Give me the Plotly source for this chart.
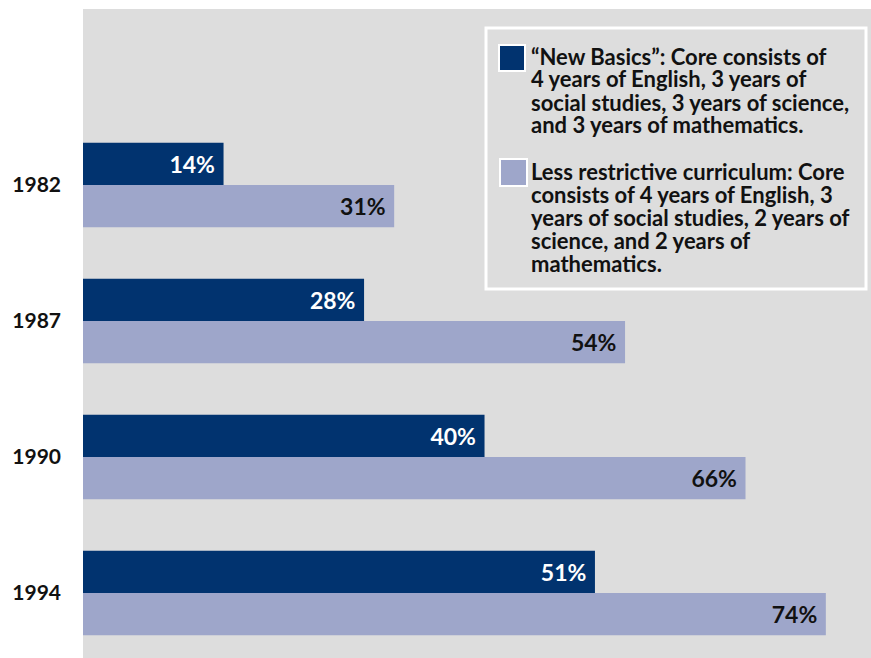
import plotly.graph_objects as go

years = ["1982", "1987", "1990", "1994"]
new_basics = [14, 28, 40, 51]
less_restrictive = [31, 54, 66, 74]
legend_new = ["\u201cNew Basics\u201d: Core consists of",
              "4 years of English, 3 years of",
              "social studies, 3 years of science,",
              "and 3 years of mathematics."]
legend_less = ["Less restrictive curriculum: Core",
               "consists of 4 years of English, 3",
               "years of social studies, 2 years of",
               "science, and 2 years of",
               "mathematics."]

DARK = "#01336f"
LIGHT = "#9ea6ca"
BG = "#dddddd"
FONT = "Lato"
FS = 21
FS_BAR = 23
FS_LEG = 22

W, H = 871, 658
L, T = 83, 9
PW, PH = W - L, H - T

def px(x):
    return (x - L) / PW

def py(y):
    return (H - y) / PH

fig = go.Figure()
fig.add_trace(go.Bar(
    y=years, x=less_restrictive, orientation="h", marker_color=LIGHT,
    marker_line_width=0,
    texttemplate="%{x}%\u00a0", textposition="inside", insidetextanchor="end",
    textfont=dict(color="#111111", size=FS_BAR, family=FONT, weight="bold"),
    constraintext="none", showlegend=False, hoverinfo="skip"))
fig.add_trace(go.Bar(
    y=years, x=new_basics, orientation="h", marker_color=DARK,
    marker_line_width=0,
    texttemplate="%{x}%\u00a0", textposition="inside", insidetextanchor="end",
    textfont=dict(color="white", size=FS_BAR, family=FONT, weight="bold"),
    constraintext="none", showlegend=False, hoverinfo="skip"))

shapes = []
annotations = []
# legend box
shapes.append(dict(type="rect", xref="paper", yref="paper",
                   x0=px(486), x1=px(866), y0=py(289), y1=py(28),
                   line=dict(color="white", width=3), fillcolor=BG))
# legend swatches
shapes.append(dict(type="rect", xref="paper", yref="paper",
                   x0=px(499), x1=px(525), y0=py(71), y1=py(45),
                   line=dict(color="white", width=2), fillcolor=DARK))
shapes.append(dict(type="rect", xref="paper", yref="paper",
                   x0=px(500), x1=px(527), y0=py(186), y1=py(159),
                   line=dict(color="white", width=2), fillcolor=LIGHT))

for i, line in enumerate(legend_new):
    annotations.append(dict(text=line, xref="paper", yref="paper",
                            x=px(529), y=py(56 + i * 23), xanchor="left", yanchor="middle",
                            showarrow=False,
                            font=dict(family=FONT, size=FS_LEG, color="#111111", weight="bold")))
for i, line in enumerate(legend_less):
    annotations.append(dict(text=line, xref="paper", yref="paper",
                            x=px(529), y=py(171 + i * 23), xanchor="left", yanchor="middle",
                            showarrow=False,
                            font=dict(family=FONT, size=FS_LEG, color="#111111", weight="bold")))

fig.update_layout(
    width=W, height=H,
    margin=dict(l=L, r=0, t=T, b=0),
    paper_bgcolor="white", plot_bgcolor=BG,
    barmode="group", bargap=0.38, bargroupgap=0,
    font=dict(family=FONT, size=FS, color="#111111", weight="bold"),
    shapes=shapes, annotations=annotations,
)
fig.update_xaxes(range=[0, 78.5], showgrid=False, zeroline=False,
                 showticklabels=False, fixedrange=True)
fig.update_yaxes(type="category", categoryorder="array",
                 categoryarray=years[::-1], range=[-0.478, 4.294],
                 showgrid=False, zeroline=False, ticks="", ticklabelstandoff=21,
                 tickfont=dict(family=FONT, size=FS, color="#111111", weight="bold"))

fig.write_html("out.html")
